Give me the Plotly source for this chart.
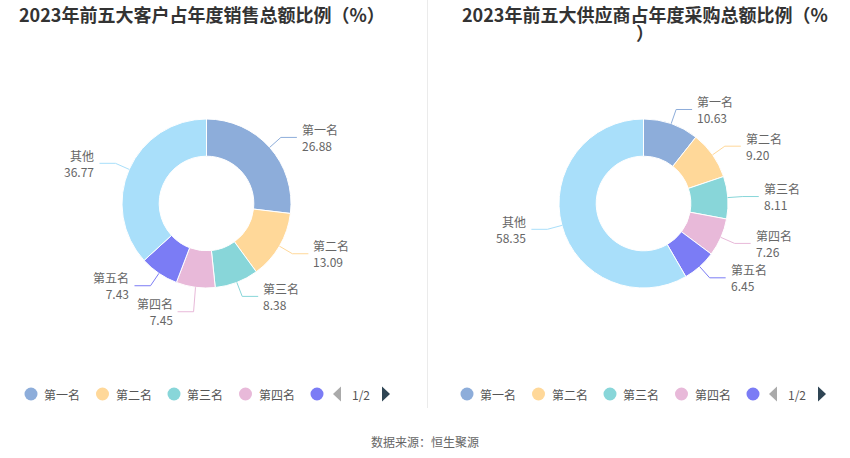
import math
import plotly.graph_objects as go

# ---------------- data ----------------
title_lines = [["2023年前五大客户占年度销售总额比例（%）"],
               ["2023年前五大供应商占年度采购总额比例（%", "）"]]
categories = ["第一名", "第二名", "第三名", "第四名", "第五名", "其他"]
customer_values = [26.88, 13.09, 8.38, 7.45, 7.43, 36.77]
supplier_values = [10.63, 9.20, 8.11, 7.26, 6.45, 58.35]
colors = ["#8DADDA", "#FFD899", "#88D6D9", "#E8B9D9", "#7B7CF5", "#A9DFFA"]
source_text = "数据来源：恒生聚源"
page_text = "1/2"

# ---------------- layout constants (pixels) ----------------
W, H = 850, 458
FONT = "Noto Sans CJK SC"
panels = [
    dict(cx=206.5, cy=203.5, title_x=201.5, legend_x0=31, values=customer_values),
    dict(cx=643.5, cy=203.5, title_x=644.5, legend_x0=467, values=supplier_values),
]
R = 84.5
HOLE = 0.56
LEN1, LEN2, GAP = 15, 16, 3
MIN_SEP = 26


def px(x):
    return x / W


def py(y):
    return 1 - y / H


fig = go.Figure()
shapes = []
annotations = []

for p in panels:
    cx, cy, vals = p["cx"], p["cy"], p["values"]
    fig.add_trace(go.Pie(
        labels=categories, values=vals, hole=HOLE, sort=False,
        direction="clockwise", rotation=0,
        marker=dict(colors=colors, line=dict(color="#ffffff", width=1)),
        textinfo="none", hoverinfo="label+value", showlegend=False,
        domain=dict(x=[px(cx - R), px(cx + R)], y=[py(cy + R), py(cy - R)]),
    ))

    total = sum(vals)
    cum = 0.0
    labels = []
    for name, v, c in zip(categories, vals, colors):
        mid = (cum + v / 2) / total * 2 * math.pi
        cum += v
        sx, sy = math.sin(mid), -math.cos(mid)
        x0, y0 = cx + R * sx, cy + R * sy
        x1, y1 = cx + (R + LEN1) * sx, cy + (R + LEN1) * sy
        side = 1 if sx >= 0 else -1
        labels.append(dict(name=name, v=v, c=c, x0=x0, y0=y0, x1=x1, y1=y1, side=side, ly=y1))

    # simple overlap avoidance per side
    for side in (1, -1):
        grp = sorted([l for l in labels if l["side"] == side], key=lambda l: l["ly"])
        for a, b in zip(grp, grp[1:]):
            if b["ly"] - a["ly"] < MIN_SEP:
                b["ly"] = a["ly"] + MIN_SEP

    for l in labels:
        x2 = l["x1"] + l["side"] * LEN2
        shapes.append(dict(
            type="path", xref="paper", yref="paper",
            path=f"M {px(l['x0'])} {py(l['y0'])} L {px(l['x1'])} {py(l['ly'])} L {px(x2)} {py(l['ly'])}",
            line=dict(color=l["c"], width=1),
        ))
        annotations.append(dict(
            x=px(x2 + l["side"] * GAP), y=py(l["ly"]), xref="paper", yref="paper",
            text=f"{l['name']}<br>{l['v']:.2f}", showarrow=False,
            xanchor="left" if l["side"] > 0 else "right", yanchor="middle",
            align="left" if l["side"] > 0 else "right",
            font=dict(family=FONT, size=12, color="#666666"),
        ))

    # legend (manual, paged like the original)
    lx0 = p["legend_x0"]
    ly = 394
    step = 71.5
    for i in range(5):
        x = lx0 + i * step
        shapes.append(dict(type="circle", xref="paper", yref="paper",
                           x0=px(x - 6.5), x1=px(x + 6.5), y0=py(ly + 6.5), y1=py(ly - 6.5),
                           fillcolor=colors[i], line=dict(width=0)))
        if i < 4:
            annotations.append(dict(
                x=px(x + 11), y=py(ly), xref="paper", yref="paper", text=categories[i],
                showarrow=False, xanchor="left", yanchor="middle",
                font=dict(family=FONT, size=12, color="#555555")))
    ax = lx0 + 4 * step + 16
    shapes.append(dict(type="path", xref="paper", yref="paper",
                       path=f"M {px(ax + 8)} {py(ly - 7.5)} L {px(ax)} {py(ly)} L {px(ax + 8)} {py(ly + 7.5)} Z",
                       fillcolor="#AAAAAA", line=dict(width=0)))
    annotations.append(dict(x=px(ax + 28), y=py(ly), xref="paper", yref="paper", text=page_text,
                            showarrow=False, xanchor="center", yanchor="middle",
                            font=dict(family=FONT, size=12, color="#555555")))
    bx = ax + 49
    shapes.append(dict(type="path", xref="paper", yref="paper",
                       path=f"M {px(bx)} {py(ly - 7.5)} L {px(bx + 8)} {py(ly)} L {px(bx)} {py(ly + 7.5)} Z",
                       fillcolor="#2F4554", line=dict(width=0)))

# titles
for p, lines in zip(panels, title_lines):
    for k, t in enumerate(lines):
        annotations.append(dict(
            x=px(p["title_x"]), y=py(14 + k * 18), xref="paper", yref="paper", text=f"<b>{t}</b>",
            showarrow=False, xanchor="center", yanchor="middle", borderpad=0,
            font=dict(family=FONT, size=18, color="#333333")))

# divider
shapes.append(dict(type="line", xref="paper", yref="paper",
                   x0=px(427.5), x1=px(427.5), y0=py(0), y1=py(408),
                   line=dict(color="#EBEBEB", width=1)))

# source
annotations.append(dict(x=0.5, y=py(441), xref="paper", yref="paper", text=source_text,
                        showarrow=False, xanchor="center", yanchor="middle",
                        font=dict(family=FONT, size=12, color="#666666")))

fig.update_layout(
    width=W, height=H, margin=dict(l=0, r=0, t=0, b=0),
    paper_bgcolor="#ffffff", plot_bgcolor="#ffffff",
    shapes=shapes, annotations=annotations, showlegend=False,
)

fig.write_html("out.html", config={"displayModeBar": False},
               post_script="document.body.style.margin='0px';")
